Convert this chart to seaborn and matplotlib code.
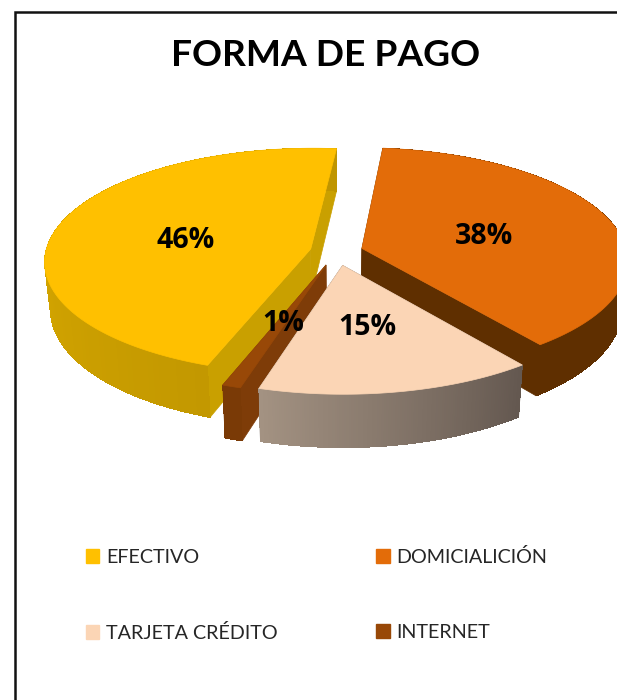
import numpy as np
import seaborn as sns
import matplotlib.pyplot as plt
from matplotlib.collections import PolyCollection
from matplotlib.patches import Patch, Polygon

categories = ['EFECTIVO', 'DOMICIALICIÓN', 'TARJETA CRÉDITO', 'INTERNET']
shares = [46, 38, 15, 1]
title = 'FORMA DE PAGO'

top_colors = ['#FFC000', '#E36C09', '#FBD5B5', '#984807']
wall_colors = [('#D2A400', '#BF9500'), ('#5F2F00', '#5F2F00'),
               ('#A39282', '#645850'), ('#7A3A06', '#7A3A06')]
face_colors = ['#C9A000', '#5F2F00', '#6B5D52', '#7E3C08']
explode = [0.1, 0.1, 0.125, 0.125]

# camera for the tilted pie, in pixels
cx, cy = 336.5, 251.5
rx, ry = 265, 112
persp = 0.106
depth = 47


def project(u, v):
    s = 1 / (1 + persp * np.asarray(v))
    return np.column_stack([cx + rx * np.asarray(u) * s, cy - ry * np.asarray(v) * s])


def drop(pts, v):
    s = 1 / (1 + persp * np.asarray(v))
    return np.column_stack([cx + (pts[:, 0] - cx) * 0.98, pts[:, 1] + depth * s])


sns.set_theme(style='white')
plt.rcParams['font.family'] = ['Lato', 'DejaVu Sans']

fig = plt.figure(figsize=(6.17, 7), dpi=100)
ax = fig.add_axes([0, 0, 1, 1])
wedges, _, pct_texts = ax.pie(shares, explode=explode, startangle=250, counterclock=False,
                              colors=sns.color_palette(top_colors), autopct='%.0f%%',
                              pctdistance=0.48)
ax.set_aspect('auto')
ax.set_xlim(0, 617)
ax.set_ylim(700, 0)

# yellow first, tarjeta last: painter's order of the original
for rank, i in enumerate([0, 1, 3, 2]):
    w = wedges[i]
    w.set_visible(False)
    a, b = sorted([w.theta1, w.theta2])
    t = np.radians(np.linspace(a, b, 121))
    u = w.center[0] + np.cos(t)
    v = w.center[1] + np.sin(t)
    rim = project(u, v)
    low = drop(rim, v)
    apex = project([w.center[0]], [w.center[1]])
    apex_low = drop(apex, [w.center[1]])
    z = 2 + rank

    # the two cut faces, separately so a thin slice does not cross itself
    for end in [0, -1]:
        face = np.vstack([apex, rim[end], low[end], apex_low])
        ax.add_patch(Polygon(face, closed=True, fc=face_colors[i], ec=face_colors[i], lw=0.5, zorder=z))

    # wall strip by strip, left to right shading
    quads = [[rim[k], rim[k + 1], low[k + 1], low[k]] for k in range(len(t) - 1)]
    order = np.argsort(np.argsort(rim[:-1, 0]))
    shades = sns.blend_palette(wall_colors[i], len(quads))
    ax.add_collection(PolyCollection(quads, facecolors=[shades[o] for o in order],
                                     edgecolors='none', antialiaseds=False, zorder=z))

    ax.add_patch(Polygon(np.vstack([apex, rim]), closed=True, fc=top_colors[i],
                         ec=top_colors[i], lw=0.5, zorder=z))

for txt, nudge in zip(pct_texts, [(-3, 3), (2, 3), (-1, 5), (0, 3)]):
    x, y = txt.get_position()
    px, py = project([x], [y])[0]
    txt.set_position((px + nudge[0], py + nudge[1]))
    txt.set(fontsize=20.5, fontweight='bold', fontfamily=['Open Sans', 'DejaVu Sans'],
            color='black', zorder=20)

ax.text(325.5, 55, title, ha='center', va='center', fontsize=26.7, fontweight='bold',
        color='black')

# legend fills by column, the original reads by row
legend_order = [0, 2, 1, 3]
handles = [Patch(color=top_colors[i]) for i in legend_order]
labels = [categories[i] for i in legend_order]
ax.legend(handles, labels, ncol=2, loc='upper left', bbox_to_anchor=(86, 548),
          bbox_transform=ax.transData, frameon=False, borderpad=0, borderaxespad=0,
          fontsize=14.2, labelcolor='#262626', handlelength=0.68, handleheight=0.68,
          handletextpad=0.33, labelspacing=2.95, columnspacing=5.0)

ax.plot([14.5, 14.5, 617], [700, 12, 12], color='#111111', lw=1.8, zorder=30,
        solid_joinstyle='miter')

fig.savefig('out.png', dpi=100)
